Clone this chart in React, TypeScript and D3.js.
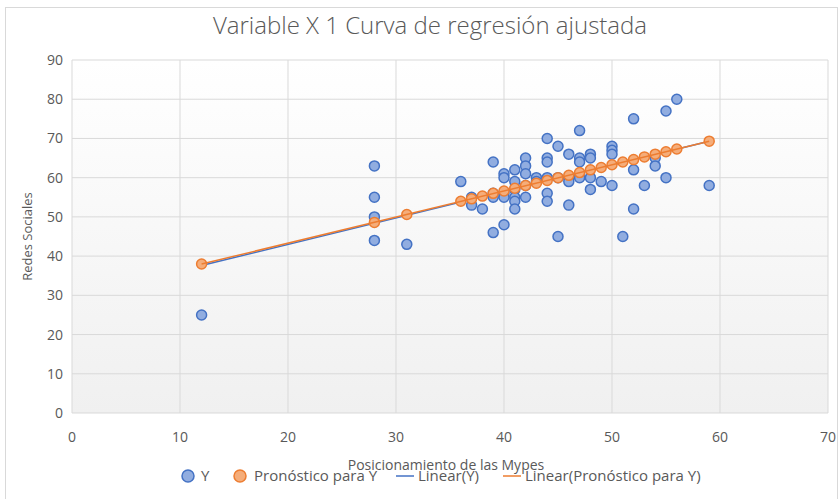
import React from 'react';
import * as d3 from 'd3';

const title = 'Variable X 1 Curva de regresión ajustada';
const xAxisTitle = 'Posicionamiento de las Mypes';
const yAxisTitle = 'Redes Sociales';

const xTicks = [0, 10, 20, 30, 40, 50, 60, 70];
const yTicks = [0, 10, 20, 30, 40, 50, 60, 70, 80, 90];

// Observed Y
const obsX = [
  12,
  28, 28, 28, 28,
  31,
  36,
  37, 37,
  38,
  39, 39, 39, 39,
  40, 40, 40, 40, 40,
  41, 41, 41, 41, 41, 41,
  42, 42, 42, 42, 42,
  43, 43,
  44, 44, 44, 44, 44, 44,
  45, 45, 45,
  46, 46, 46, 46,
  47, 47, 47, 47, 47,
  48, 48, 48, 48,
  49,
  50, 50, 50, 50,
  51,
  52, 52, 52,
  53,
  54, 54,
  55, 55,
  56,
  59,
];
const obsY = [
  25,
  63, 55, 50, 44,
  43,
  59,
  55, 53,
  52,
  64, 56, 55, 46,
  61, 60, 56, 55, 48,
  62, 59, 57, 55, 54, 52,
  65, 63, 61, 58, 55,
  60, 59,
  70, 65, 64, 60, 56, 54,
  68, 60, 45,
  66, 60, 59, 53,
  72, 65, 64, 61, 60,
  66, 65, 60, 57,
  59,
  68, 67, 66, 58,
  45,
  75, 62, 52,
  58,
  65, 63,
  77, 60,
  80,
  58,
];

// Pronóstico para Y
const predX = [12, 28, 31, 36, 37, 38, 39, 40, 41, 42, 43, 44, 45, 46, 47, 48, 49, 50, 51, 52, 53, 54, 55, 56, 59];
const predY = [38.0, 48.6, 50.6, 54.0, 54.6, 55.3, 56.0, 56.6, 57.3, 58.0, 58.6, 59.3, 60.0, 60.6, 61.3, 62.0, 62.6, 63.3, 64.0, 64.6, 65.3, 66.0, 66.6, 67.3, 69.3];

const legendItems = ['Y', 'Pronóstico para Y', 'Linear(Y)', 'Linear(Pronóstico para Y)'];

const BLUE = '#4472c4';
const BLUE_FILL = '#91ade0';
const ORANGE = '#ed7d31';
const ORANGE_FILL = '#f5ad7a';
const TEXT = '#595959';
const GRID = '#d9d9d9';
const FONT = "'Open Sans', sans-serif";

function fit(xs: number[], ys: number[]) {
  const mx = d3.mean(xs) as number;
  const my = d3.mean(ys) as number;
  let num = 0, den = 0;
  xs.forEach((x, i) => { num += (x - mx) * (ys[i] - my); den += (x - mx) * (x - mx); });
  const b = num / den;
  return { a: my - b * mx, b };
}

export default function App() {
  const W = 840, H = 499;
  const x = d3.scaleLinear().domain([0, 70]).range([72, 828]);
  const y = d3.scaleLinear().domain([0, 90]).range([413, 60]);

  const fy = fit(obsX, obsY);
  const fp = fit(predX, predY);
  const x0 = d3.min(obsX) as number, x1 = d3.max(obsX) as number;
  const line = d3.line<[number, number]>().x(d => x(d[0])).y(d => y(d[1]));
  const trendY = line([[x0, fy.a + fy.b * x0], [x1, fy.a + fy.b * x1]]) as string;
  const trendP = line([[x0, fp.a + fp.b * x0], [x1, fp.a + fp.b * x1]]) as string;

  return (
    <svg width={W} height={H} style={{ position: 'absolute', left: 0, top: 0, background: '#fff' }} fontFamily={FONT}>
      <defs>
        <linearGradient id="plotbg" x1="0" y1="0" x2="0" y2="1">
          <stop offset="0" stopColor="#ffffff" />
          <stop offset="1" stopColor="#f0f0f0" />
        </linearGradient>
      </defs>
      <rect x={5.5} y={7.5} width={832} height={520} fill="#fff" stroke="#d9d9d9" />
      <rect x={x(0)} y={y(90)} width={x(70) - x(0)} height={y(0) - y(90)} fill="url(#plotbg)" />
      {xTicks.map(t => (
        <line key={'gx' + t} x1={x(t)} x2={x(t)} y1={y(0)} y2={y(90)} stroke={GRID} strokeWidth={1} />
      ))}
      {yTicks.map(t => (
        <line key={'gy' + t} x1={x(0)} x2={x(70)} y1={y(t)} y2={y(t)} stroke={GRID} strokeWidth={1} />
      ))}
      {xTicks.map(t => (
        <text key={'tx' + t} x={x(t)} y={442} textAnchor="middle" fontSize={14} fill={TEXT}>{t}</text>
      ))}
      {yTicks.map(t => (
        <text key={'ty' + t} x={63} y={y(t) + 5} textAnchor="end" fontSize={14} fill={TEXT}>{t}</text>
      ))}
      <text x={430} y={34} textAnchor="middle" fontSize={24} fontWeight={300} fill={TEXT}>{title}</text>
      <text transform={`translate(32,${(y(0) + y(90)) / 2}) rotate(-90)`} textAnchor="middle" fontSize={13} fill={TEXT}>{yAxisTitle}</text>

      {obsX.map((v, i) => (
        <circle key={'o' + i} cx={x(v)} cy={y(obsY[i])} r={5} fill={BLUE_FILL} stroke={BLUE} strokeWidth={1.5} />
      ))}
      <path d={trendY} stroke={BLUE} strokeWidth={1.5} fill="none" />
      {predX.map((v, i) => (
        <circle key={'p' + i} cx={x(v)} cy={y(predY[i])} r={5} fill={ORANGE_FILL} stroke={ORANGE} strokeWidth={1.5} />
      ))}
      <path d={trendP} stroke={ORANGE} strokeWidth={1.5} fill="none" />

      <text x={446} y={470} textAnchor="middle" fontSize={14} fill={TEXT}>{xAxisTitle}</text>
      <g fontSize={15} fill={TEXT}>
        <circle cx={188} cy={476} r={6} fill={BLUE_FILL} stroke={BLUE} strokeWidth={1.5} />
        <text x={201} y={481}>{legendItems[0]}</text>
        <circle cx={240} cy={476} r={6} fill={ORANGE_FILL} stroke={ORANGE} strokeWidth={1.5} />
        <text x={254} y={481}>{legendItems[1]}</text>
        <line x1={396} x2={414} y1={476} y2={476} stroke={BLUE} strokeWidth={1.5} />
        <text x={418} y={481}>{legendItems[2]}</text>
        <line x1={503} x2={521} y1={476} y2={476} stroke={ORANGE} strokeWidth={1.5} />
        <text x={525} y={481}>{legendItems[3]}</text>
      </g>
    </svg>
  );
}
